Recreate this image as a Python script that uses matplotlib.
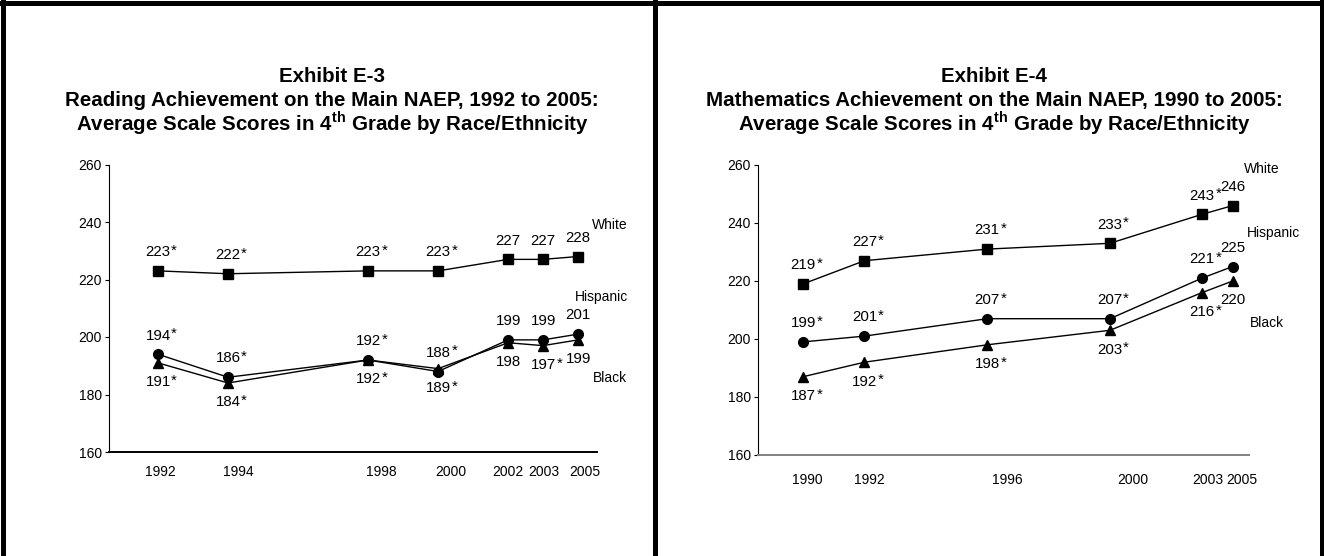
import matplotlib.pyplot as plt
from matplotlib.lines import Line2D

plt.rcParams['font.family'] = ['Liberation Sans', 'DejaVu Sans']
plt.rcParams['mathtext.fontset'] = 'custom'
plt.rcParams['mathtext.rm'] = 'Liberation Sans'
plt.rcParams['mathtext.bf'] = 'Liberation Sans:bold'

# Exhibit E-3, reading
read_years = ['1992', '1994', '1998', '2000', '2002', '2003', '2005']
read_slots = [0, 2, 6, 8, 10, 11, 12]  # spacing as drawn in the original
read_white = [223, 222, 223, 223, 227, 227, 228]
read_hisp = [194, 186, 192, 188, 199, 199, 201]
read_black = [191, 184, 192, 189, 198, 197, 199]
read_white_sig = [1, 1, 1, 1, 0, 0, 0]
read_hisp_sig = [1, 1, 1, 1, 0, 0, 0]
read_black_sig = [1, 1, 1, 1, 0, 1, 0]

# Exhibit E-4, mathematics
math_years = ['1990', '1992', '1996', '2000', '2003', '2005']
math_slots = [0, 2, 6, 10, 13, 14]
math_white = [219, 227, 231, 233, 243, 246]
math_hisp = [199, 201, 207, 207, 221, 225]
math_black = [187, 192, 198, 203, 216, 220]
math_white_sig = [1, 1, 1, 1, 1, 0]
math_hisp_sig = [1, 1, 1, 1, 1, 0]
math_black_sig = [1, 1, 1, 1, 1, 0]

groups = ['White', 'Hispanic', 'Black']


def draw_panel(ax, slots, years, tick_slots, series, sigs, xlim, name_pos, xcolor, xpad):
    markers = ['s', 'o', '^']
    for vals, mk in zip(series, markers):
        ax.plot(slots, vals, color='black', lw=1, marker=mk, ms=7, zorder=3)
    offsets = [13.5, 13.5, -14]
    for vals, sig, dy in zip(series, sigs, offsets):
        for x, v, s in zip(slots, vals, sig):
            ax.annotate(str(v), (x, v), xytext=(0, dy), textcoords='offset points',
                        ha='center', va='center', fontsize=10.8)
            if s:
                ax.annotate('*', (x, v), xytext=(9.5, dy + 1.2), textcoords='offset points',
                            ha='left', va='center', fontsize=10.8)
    for g, (px, py) in zip(groups, name_pos):
        ax.text(px, py, g, ha='center', va='center', fontsize=10, clip_on=False)

    ax.set_xlim(*xlim)
    ax.set_ylim(160, 260)
    ax.set_yticks(range(160, 261, 20))
    ax.set_xticks(tick_slots)
    ax.set_xticklabels(years)
    ax.tick_params(axis='x', length=0, pad=xpad, labelsize=10)
    ax.tick_params(axis='y', length=3, width=0.8, pad=2, labelsize=10)
    ax.spines['top'].set_visible(False)
    ax.spines['right'].set_visible(False)
    ax.spines['left'].set_linewidth(0.8)
    ax.spines['bottom'].set_color(xcolor)
    ax.spines['bottom'].set_linewidth(1.4)


fig = plt.figure(figsize=(13.24, 5.56), dpi=100)

ax1 = fig.add_axes([109 / 1324, 104 / 556, 488 / 1324, 287.5 / 556])
draw_panel(ax1, read_slots, read_years,
           [0.06, 2.29, 6.37, 8.37, 10.0, 11.03, 12.2],
           [read_white, read_hisp, read_black],
           [read_white_sig, read_hisp_sig, read_black_sig],
           (-1.4, 12.54), [(12.9, 239), (12.66, 214), (12.9, 185.7)], 'black', 9)

ax2 = fig.add_axes([758 / 1324, 101 / 556, 491 / 1324, 290 / 556])
draw_panel(ax2, math_slots, math_years,
           [0.15, 2.15, 6.65, 10.75, 13.2, 14.3],
           [math_white, math_hisp, math_black],
           [math_white_sig, math_hisp_sig, math_black_sig],
           (-1.47, 14.53), [(14.95, 258.6), (15.34, 236.6), (15.1, 205.5)], '#808080', 13)

titles = [
    ('Exhibit E-3', 'Reading Achievement on the Main NAEP, 1992 to 2005:', 332),
    ('Exhibit E-4', 'Mathematics Achievement on the Main NAEP, 1990 to 2005:', 994),
]
for head, line2, cx in titles:
    lines = [head, line2, r'Average Scale Scores in 4$^{\mathbf{th}}$ Grade by Race/Ethnicity']
    for i, t in enumerate(lines):
        fig.text(cx / 1324, 1 - (81.5 + 24.5 * i) / 556, t, ha='center', va='baseline',
                 fontsize=14.8, fontweight='bold')

# frame around the two exhibits
bw = 3.6
fig.add_artist(Line2D([0, 1], [1 - 2.5 / 556] * 2, transform=fig.transFigure, color='black', lw=bw))
for xp in (2.5, 655, 1321.5):
    fig.add_artist(Line2D([xp / 1324] * 2, [0, 1], transform=fig.transFigure, color='black', lw=bw))

fig.savefig('out.png', dpi=100)
